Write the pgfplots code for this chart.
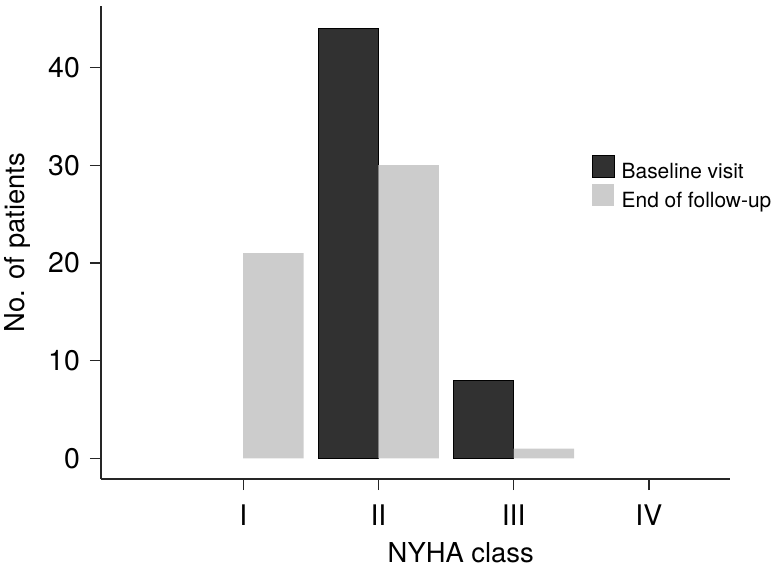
\documentclass[border=0pt]{standalone}
\usepackage{pgfplots}
\pgfplotsset{compat=1.18}
\usepackage{fontspec}
\setmainfont{TeX Gyre Heros}
\definecolor{darkbar}{HTML}{313131}
\definecolor{lightbar}{HTML}{CCCCCC}
\begin{document}
\begin{tikzpicture}
\begin{axis}[
  scale only axis, width=629bp, height=473bp,
  xmin=-0.052, xmax=4.6, ymin=-2.12, ymax=46.3,
  axis x line=bottom, axis y line=left,
  axis line style={-, line width=1.3bp, black!85},
  every tick/.style={black!85, line width=1.3bp},
  tick align=outside, major tick length=11bp,
  xtick={1,2,3,4}, xticklabels={I,II,III,IV},
  ytick={0,10,20,30,40},
  /pgf/number format/assume math mode=true,
  ticklabel style={font=\fontsize{28.5}{32}\selectfont},
  yticklabel style={anchor=east, inner sep=0pt, xshift=-10bp},
  xticklabel style={anchor=north, inner sep=0pt, yshift=-15bp},
  xlabel={NYHA class}, ylabel={No. of patients},
  label style={font=\fontsize{27.5}{32}\selectfont},
  xlabel style={at={(axis description cs:0.572,-0.1755)}, anchor=base},
  ylabel style={at={(axis description cs:-0.1224,0.5)}, anchor=base},
  legend style={at={(axis description cs:0.7806,0.685)}, anchor=north west,
    draw=none, fill=none, inner sep=0pt, row sep=0pt, column sep=7bp,
    font=\fontsize{21}{25}\selectfont,
    nodes={inner sep=0pt, text height=16bp, text depth=6bp}},
  legend cell align=left,
  sqlegend/.style={legend image code/.code={\fill[##1] (0bp,-4bp) rectangle (22bp,18bp);}},
]
\addplot[ybar, bar width=0.447, bar shift=-0.2235, fill=darkbar, draw=black, line width=0.5bp, sqlegend]
  coordinates {(2,44) (3,8)};
\addlegendentry{Baseline visit}
\addplot[ybar, bar width=0.447, bar shift=0.2235, fill=lightbar, draw=none, sqlegend]
  coordinates {(1,21) (2,30) (3,1)};
\addlegendentry{End of follow-up}
\end{axis}
\pgfresetboundingbox
\path[use as bounding box] (current axis.south west) ++(-101bp,-89bp) rectangle ++(776bp,568bp);
\end{tikzpicture}
\end{document}
